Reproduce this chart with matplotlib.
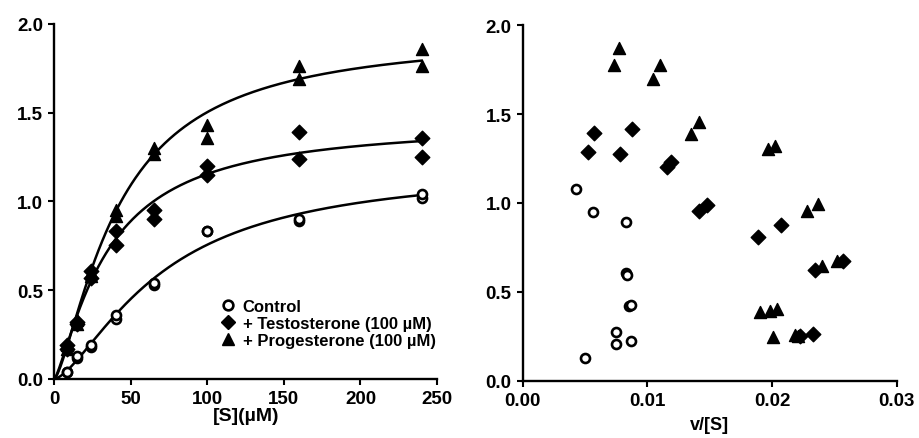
import numpy as np
import matplotlib
matplotlib.use("Agg")
import matplotlib.pyplot as plt
from matplotlib.lines import Line2D

plt.rcParams['font.family'] = ['Liberation Sans', 'DejaVu Sans']
plt.rcParams['font.weight'] = 'bold'

# ---- Left panel data: v vs [S] (duplicates) ----
S = [8, 8, 15, 15, 24, 24, 40, 40, 65, 65, 100, 100, 160, 160, 240, 240]
v_control = [0.04, 0.04, 0.12, 0.13, 0.18, 0.19, 0.34, 0.36, 0.53, 0.54,
             0.835, 0.835, 0.89, 0.90, 1.02, 1.04]
v_testo = [0.19, 0.17, 0.32, 0.31, 0.61, 0.57, 0.835, 0.755, 0.95, 0.90,
           1.20, 1.15, 1.39, 1.24, 1.36, 1.25]
v_prog = [0.19, 0.17, 0.33, 0.31, 0.60, 0.58, 0.95, 0.92, 1.30, 1.27,
          1.43, 1.36, 1.765, 1.69, 1.86, 1.765]

# Fitted Hill parameters (Vmax, K, n) for the drawn curves
fit_control = (1.20, 70.0, 1.5)
fit_testo = (1.45, 35.0, 1.3)
fit_prog = (1.95, 42.0, 1.4)

# ---- Right panel data: v vs v/[S] ----
ctl_vs = [0.0043, 0.0056, 0.0083, 0.0083, 0.0084, 0.0085, 0.0087, 0.0075, 0.0075, 0.0087, 0.0050]
ctl_v = [1.08, 0.95, 0.89, 0.605, 0.595, 0.418, 0.425, 0.275, 0.205, 0.225, 0.127]
tes_vs = [0.00524, 0.00575, 0.0078, 0.00874, 0.01155, 0.01187, 0.01417, 0.01476,
          0.0189, 0.0207, 0.02344, 0.0257, 0.02224, 0.0233]
tes_v = [1.284, 1.391, 1.275, 1.415, 1.20, 1.231, 0.952, 0.988,
         0.807, 0.876, 0.624, 0.672, 0.25, 0.263]
pro_vs = [0.00775, 0.00733, 0.01048, 0.0110, 0.01348, 0.01417, 0.0197, 0.0202,
          0.02277, 0.0237, 0.02398, 0.02518, 0.01903, 0.01983, 0.02037, 0.0201,
          0.02184, 0.02208]
pro_v = [1.874, 1.777, 1.696, 1.775, 1.387, 1.453, 1.303, 1.322,
         0.956, 0.994, 0.643, 0.672, 0.388, 0.394, 0.403, 0.248,
         0.257, 0.253]

labels = ["Control", "+ Testosterone (100 \u00b5M)", "+ Progesterone (100 \u00b5M)"]


def hill(s, p):
    vmax, k, n = p
    return vmax * s**n / (k**n + s**n)


fig = plt.figure(figsize=(9.19, 4.39), dpi=100)
ax1 = fig.add_axes([0.0591, 0.1344, 0.4164, 0.8087])
ax2 = fig.add_axes([0.5688, 0.1305, 0.407, 0.810])

circ = dict(marker='o', s=42, facecolors='white', edgecolors='black', linewidths=1.9, zorder=3, clip_on=False)
diam = dict(marker='D', s=55, color='black', zorder=3, clip_on=False)
tri = dict(marker='^', s=75, color='black', zorder=3, clip_on=False)

# Left
xs = np.linspace(0, 240, 300)
for p in (fit_control, fit_testo, fit_prog):
    ax1.plot(xs, hill(xs, p), color='black', lw=1.8, zorder=2)
ax1.scatter(S, v_control, **circ)
ax1.scatter(S, v_testo, **diam)
ax1.scatter(S, v_prog, **tri)
ax1.set_xlim(0, 250)
ax1.set_ylim(0, 2.0)
ax1.set_xticks([0, 50, 100, 150, 200, 250])
ax1.set_yticks([0.0, 0.5, 1.0, 1.5, 2.0])
ax1.set_yticklabels(["0.0", "0.5", "1.0", "1.5", "2.0"])
ax1.set_xlabel("[S](\u00b5M)", fontsize=14, fontweight='bold', labelpad=0)

handles = [
    Line2D([], [], marker='o', ls='', markerfacecolor='white', markeredgecolor='black', markeredgewidth=1.9, markersize=7),
    Line2D([], [], marker='D', ls='', color='black', markersize=7.5),
    Line2D([], [], marker='^', ls='', color='black', markersize=9),
]
ax1.legend(handles, labels, loc='upper left', bbox_to_anchor=(0.405, 0.25), frameon=False,
           handletextpad=0.3, labelspacing=0.12, borderpad=0, handlelength=1.2,
           prop={'weight': 'bold', 'size': 12})

# Right
ax2.scatter(ctl_vs, ctl_v, **circ)
ax2.scatter(tes_vs, tes_v, **diam)
ax2.scatter(pro_vs, pro_v, **tri)
ax2.set_xlim(0, 0.03)
ax2.set_ylim(0, 2.0)
ax2.set_xticks([0.0, 0.01, 0.02, 0.03])
ax2.set_xticklabels(["0.00", "0.01", "0.02", "0.03"])
ax2.set_yticks([0.0, 0.5, 1.0, 1.5, 2.0])
ax2.set_yticklabels(["0.0", "0.5", "1.0", "1.5", "2.0"])
ax2.set_xlabel("v/[S]", fontsize=13, fontweight='bold', labelpad=5)

for ax in (ax1, ax2):
    for side in ('top', 'right'):
        ax.spines[side].set_visible(False)
    for side in ('left', 'bottom'):
        ax.spines[side].set_linewidth(1.7)
    ax.tick_params(direction='out', length=4, width=1.5, labelsize=13.5, pad=4)
    for lab in ax.get_xticklabels() + ax.get_yticklabels():
        lab.set_fontweight('bold')

fig.savefig("out.png", dpi=100)
